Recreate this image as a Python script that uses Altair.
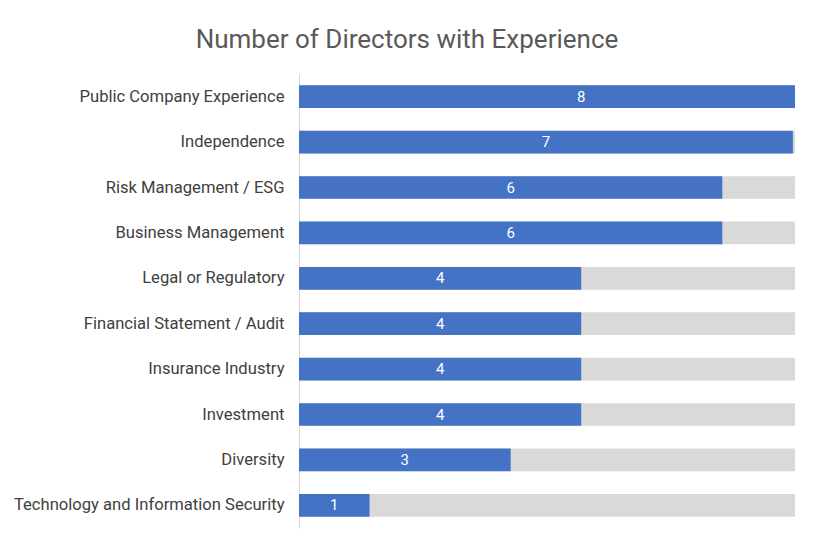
import altair as alt
import pandas as pd

categories = [
    "Public Company Experience",
    "Independence",
    "Risk Management / ESG",
    "Business Management",
    "Legal or Regulatory",
    "Financial Statement / Audit",
    "Insurance Industry",
    "Investment",
    "Diversity",
    "Technology and Information Security",
]
counts = [8, 7, 6, 6, 4, 4, 4, 4, 3, 1]

df = pd.DataFrame({"category": categories, "count": counts})
df["half"] = df["count"] / 2

W, H = 496, 454
FONT = "Roboto"

y_enc = alt.Y(
    "category:N",
    sort=categories,
    title=None,
    scale=alt.Scale(paddingInner=0.5, paddingOuter=0.25),
    axis=alt.Axis(
        ticks=False,
        labelFontSize=16.6,
        labelColor="#404040",
        labelFont=FONT,
        labelPadding=15,
        domainColor="#d9d9d9",
        labelLimit=400,
    ),
)
x_scale = alt.Scale(domain=[0, 7.03], nice=False, zero=True)

base = alt.Chart(df)

bg = base.mark_bar(color="#d9d9d9").encode(
    y=y_enc,
    x=alt.value(0),
    x2=alt.value(W),
)

bars = base.mark_bar(color="#4472c4", clip=True).encode(
    y=y_enc,
    x=alt.X("count:Q", scale=x_scale, axis=None, title=None),
)

labels = base.mark_text(color="white", fontSize=15, font=FONT).encode(
    y=y_enc,
    x=alt.X("half:Q", scale=x_scale, axis=None),
    text=alt.Text("count:Q"),
)

chart = (
    alt.layer(bg, bars, labels)
    .properties(
        width=W,
        height=H,
        title=alt.TitleParams(
            "Number of Directors with Experience",
            fontSize=26,
            font=FONT,
            fontWeight="normal",
            color="#595959",
            dx=-140,
            offset=21,
        ),
        autosize=alt.AutoSizeParams(type="none"),
        padding={"left": 291, "top": 66, "right": 12, "bottom": 12},
    )
    .configure(background="white", view=alt.ViewConfig(stroke=None, strokeWidth=0))
)

chart.save("out.html", embed_options={"renderer": "svg", "actions": False})
